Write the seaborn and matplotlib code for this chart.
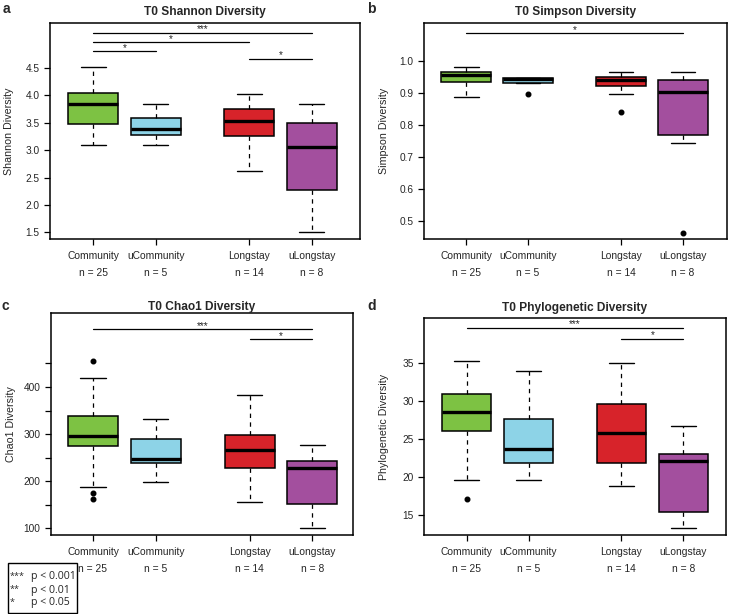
import matplotlib
matplotlib.use("Agg")
import matplotlib.pyplot as plt
import seaborn as sns
from matplotlib.patches import Rectangle

sns.set_theme(style="white")
plt.rcParams["font.family"] = ["Liberation Sans", "DejaVu Sans"]

# ---------------- data ----------------
groups = ["Community", "uCommunity", "Longstay", "uLongstay"]
group_n = [25, 5, 14, 8]
colors = ["#7dc243", "#8dd3e7", "#d7232a", "#a34f9e"]
positions = [1, 2, 3.5, 4.5]

shannon_lo = [3.09, 3.09, 2.62, 1.50]
shannon_q1 = [3.48, 3.28, 3.25, 2.28]
shannon_med = [3.85, 3.39, 3.53, 3.05]
shannon_q3 = [4.05, 3.585, 3.76, 3.49]
shannon_hi = [4.52, 3.85, 4.03, 3.85]
shannon_out = [[], [], [], []]
shannon_sig = [(0, 3, 5.14, "***"), (0, 2, 4.97, "*"), (0, 1, 4.81, "*"), (2, 3, 4.67, "*")]
shannon_ticks = [1.5, 2.0, 2.5, 3.0, 3.5, 4.0, 4.5]

simpson_lo = [0.888, 0.931, 0.895, 0.745]
simpson_q1 = [0.933, 0.932, 0.922, 0.770]
simpson_med = [0.955, 0.943, 0.940, 0.902]
simpson_q3 = [0.965, 0.945, 0.949, 0.939]
simpson_hi = [0.982, 0.946, 0.965, 0.965]
simpson_out = [[], [0.895], [0.839], [0.464]]
simpson_sig = [(0, 3, 1.087, "*")]
simpson_ticks = [0.5, 0.6, 0.7, 0.8, 0.9, 1.0]

chao_lo = [188, 199, 157, 101]
chao_q1 = [275, 238, 228, 152]
chao_med = [296.5, 247, 267, 228]
chao_q3 = [339, 290, 299, 243]
chao_hi = [420, 333, 382, 277]
chao_out = [[456, 176, 163], [], [], []]
chao_sig = [(0, 3, 522, "***"), (2, 3, 502, "*")]
chao_ticks = [100, 150, 200, 250, 300, 350, 400, 450]
chao_ticklabels = ["100", "", "200", "", "300", "", "400", ""]

pd_lo = [19.6, 19.6, 18.9, 13.3]
pd_q1 = [26.1, 21.9, 21.8, 15.4]
pd_med = [28.6, 23.7, 25.8, 22.1]
pd_q3 = [30.9, 27.6, 29.6, 23.0]
pd_hi = [35.26, 33.9, 35.0, 26.7]
pd_out = [[17.1], [], [], []]
pd_sig = [(0, 3, 39.6, "***"), (2, 3, 38.2, "*")]
pd_ticks = [15, 20, 25, 30, 35]

legend_stars = ["***", "**", "*"]
legend_text = ["p < 0.001", "p < 0.01", "p < 0.05"]

# ---------------- figure ----------------
W, H = 729, 614
fig = plt.figure(figsize=(W / 100, H / 100), dpi=100)


def fx(px):
    return px / W


def fy(py):
    return 1 - py / H


def make_axes(l, t, r, b):
    return fig.add_axes([fx(l), fy(b), fx(r) - fx(l), fy(t) - fy(b)])


def draw_panel(ax, lo, q1, med, q3, hi, out, sig, ylim, xlim, yticks, yticklabels,
               ylabel, title, title_pad):
    stats = []
    for i in range(len(groups)):
        stats.append(dict(med=med[i], q1=q1[i], q3=q3[i], whislo=lo[i], whishi=hi[i],
                          fliers=out[i], label=groups[i]))
    bp = ax.bxp(stats, positions=positions, widths=0.8, capwidths=0.4,
                patch_artist=True, showfliers=True, manage_ticks=False,
                boxprops=dict(linewidth=1.1, edgecolor="black"),
                medianprops=dict(color="black", linewidth=2.4, solid_capstyle="butt"),
                whiskerprops=dict(color="black", linewidth=0.9, linestyle=(0, (3.5, 3.5))),
                capprops=dict(color="black", linewidth=1.0),
                flierprops=dict(marker="o", markerfacecolor="black",
                                markeredgecolor="black", markersize=3.3))
    for patch, c in zip(bp["boxes"], colors):
        patch.set_facecolor(c)
    for (i, j, y, lab) in sig:
        ax.plot([positions[i], positions[j]], [y, y], color="black", lw=0.9)
        ax.annotate(lab, xy=((positions[i] + positions[j]) / 2, y), xytext=(0, -1.2),
                    textcoords="offset points", ha="center", va="bottom", fontsize=7.3)
    ax.set_xlim(*xlim)
    ax.set_ylim(*ylim)
    ax.set_xticks(positions)
    ax.set_xticklabels([f"{g}\nn = {n}" for g, n in zip(groups, group_n)],
                       fontsize=7.4, linespacing=1.95)
    ax.set_yticks(yticks)
    ax.set_yticklabels(yticklabels, fontsize=7.3)
    ax.tick_params(axis="both", direction="out", length=4, width=0.9, color="black")
    ax.tick_params(axis="x", pad=4.5)
    ax.tick_params(axis="y", pad=3.5)
    ax.tick_params(left=True, bottom=True)
    for s in ax.spines.values():
        s.set_visible(True)
        s.set_color("black")
        s.set_linewidth(1.1)
    ax.set_ylabel(ylabel, fontsize=7.7)
    ax.set_title(title, fontsize=8.6, fontweight="bold", pad=title_pad)
    ax.grid(False)


ax_a = make_axes(50, 23, 360, 239)
draw_panel(ax_a, shannon_lo, shannon_q1, shannon_med, shannon_q3, shannon_hi, shannon_out,
           shannon_sig, (1.38, 5.32), (0.31, 5.27), shannon_ticks,
           [f"{v:.1f}" for v in shannon_ticks], "Shannon Diversity",
           "T0 Shannon Diversity", 5.5)

ax_b = make_axes(424, 23, 727, 239)
draw_panel(ax_b, simpson_lo, simpson_q1, simpson_med, simpson_q3, simpson_hi, simpson_out,
           simpson_sig, (0.444, 1.118), (0.32, 5.21), simpson_ticks,
           [f"{v:.1f}" for v in simpson_ticks], "Simpson Diversity",
           "T0 Simpson Diversity", 5.5)

ax_c = make_axes(51, 313, 353, 535)
draw_panel(ax_c, chao_lo, chao_q1, chao_med, chao_q3, chao_hi, chao_out,
           chao_sig, (86, 557), (0.33, 5.15), chao_ticks, chao_ticklabels,
           "Chao1 Diversity", "T0 Chao1 Diversity", 2.5)

ax_d = make_axes(424, 318, 726, 535)
draw_panel(ax_d, pd_lo, pd_q1, pd_med, pd_q3, pd_hi, pd_out,
           pd_sig, (12.4, 40.9), (0.31, 5.19), pd_ticks,
           [str(v) for v in pd_ticks], "Phylogenetic Diversity",
           "T0 Phylogenetic Diversity", 5.0)

for ax in (ax_a, ax_b, ax_c, ax_d):
    ax.yaxis.set_label_coords(-0.115, 0.5)

# panel letters
for lab, px, py in [("a", 3, 9), ("b", 367, 9), ("c", 2, 306), ("d", 367, 306)]:
    fig.text(fx(px), fy(py), lab, fontsize=10, fontweight="bold", ha="left", va="center")

# significance legend
fig.patches.append(Rectangle((fx(8), fy(613)), fx(77) - fx(8), fy(563) - fy(613),
                             transform=fig.transFigure, fill=False, edgecolor="black",
                             linewidth=1.0))
for k, (st, tx) in enumerate(zip(legend_stars, legend_text)):
    yc = 577 + 13 * k
    fig.text(fx(10), fy(yc - 1), st, fontsize=6.5, ha="left", va="center",
             family=["Open Sans", "DejaVu Sans"])
    fig.text(fx(31), fy(yc), tx, fontsize=7.6, ha="left", va="center",
             family=["Open Sans", "DejaVu Sans"])

fig.savefig("out.png", dpi=100)
